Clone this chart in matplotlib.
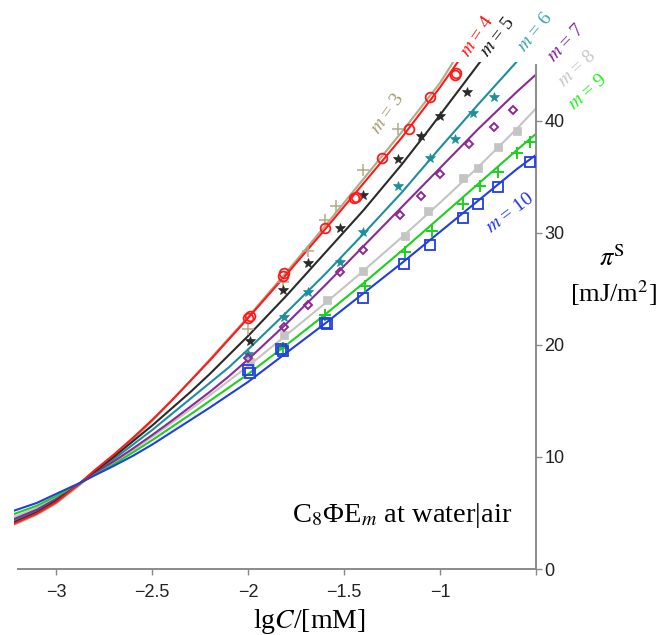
import numpy as np
import matplotlib
matplotlib.use('Agg')
import matplotlib.pyplot as plt

plt.rcParams['mathtext.fontset'] = 'stix'

# ---------------------------------------------------------------
# data: surface pressure vs lg C
# ---------------------------------------------------------------
M_VALUES = [3, 4, 5, 6, 7, 8, 9, 10]

# fitted curves
line_x = {
    3: [-3.22, -3.1, -3.0, -2.88, -2.8, -2.7, -2.6, -2.5, -2.4, -2.3, -2.2, -2.1, -2.0, -1.8, -1.6, -1.4, -1.2, -1.0, -0.93],
    4: [-3.22, -3.1, -3.0, -2.88, -2.8, -2.7, -2.6, -2.5, -2.4, -2.3, -2.2, -2.1, -2.0, -1.8, -1.6, -1.4, -1.2, -1.0, -0.906],
    5: [-3.22, -3.1, -3.0, -2.88, -2.8, -2.7, -2.6, -2.5, -2.4, -2.3, -2.2, -2.1, -2.0, -1.8, -1.6, -1.4, -1.2, -1.05, -0.9, -0.79],
    6: [-3.22, -3.1, -3.0, -2.88, -2.8, -2.7, -2.6, -2.5, -2.4, -2.3, -2.2, -2.1, -2.0, -1.8, -1.6, -1.4, -1.2, -1.0, -0.8, -0.6],
    7: [-3.22, -3.1, -3.0, -2.88, -2.8, -2.7, -2.6, -2.5, -2.4, -2.3, -2.2, -2.1, -2.0, -1.8, -1.6, -1.4, -1.2, -1.0, -0.8, -0.6, -0.49],
    8: [-3.22, -3.1, -3.0, -2.88, -2.8, -2.7, -2.6, -2.5, -2.4, -2.3, -2.2, -2.1, -2.0, -1.8, -1.6, -1.4, -1.2, -1.0, -0.8, -0.6, -0.49],
    9: [-3.22, -3.1, -3.0, -2.88, -2.8, -2.7, -2.6, -2.5, -2.4, -2.3, -2.2, -2.1, -2.0, -1.8, -1.6, -1.4, -1.2, -1.0, -0.8, -0.6, -0.49],
    10: [-3.22, -3.1, -3.0, -2.88, -2.8, -2.7, -2.6, -2.5, -2.4, -2.3, -2.2, -2.1, -2.0, -1.8, -1.6, -1.4, -1.2, -1.0, -0.8, -0.6, -0.49],
}
line_y = {
    3: [3.95, 4.85, 5.85, 7.45, 8.6, 10.0, 11.55, 13.2, 15.0, 16.8, 18.7, 20.6, 22.5, 26.5, 30.6, 34.8, 39.0, 43.4, 45.3],
    4: [4.05, 4.95, 5.95, 7.6, 8.8, 10.2, 11.7, 13.3, 15.0, 16.8, 18.6, 20.5, 22.4, 26.3, 30.3, 34.4, 38.5, 43.0, 45.3],
    5: [4.15, 5.05, 6.05, 7.6, 8.7, 10.0, 11.4, 12.8, 14.3, 15.8, 17.4, 19.1, 20.8, 24.4, 28.2, 32.0, 36.1, 39.4, 42.8, 45.3],
    6: [4.3, 5.2, 6.15, 7.6, 8.6, 9.8, 11.1, 12.4, 13.8, 15.2, 16.6, 18.0, 19.6, 22.9, 26.3, 29.9, 33.6, 37.6, 41.5, 45.3],
    7: [4.45, 5.3, 6.25, 7.6, 8.55, 9.6, 10.75, 11.95, 13.2, 14.5, 15.8, 17.2, 18.7, 21.9, 25.3, 28.8, 32.3, 35.8, 39.3, 42.6, 44.3],
    8: [4.65, 5.45, 6.35, 7.6, 8.5, 9.5, 10.6, 11.8, 13.0, 14.25, 15.5, 16.8, 18.1, 20.9, 23.7, 26.6, 29.6, 32.7, 35.9, 39.3, 41.3],
    9: [4.9, 5.65, 6.5, 7.6, 8.4, 9.35, 10.4, 11.5, 12.65, 13.8, 15.0, 16.2, 17.4, 20.0, 22.7, 25.5, 28.4, 31.4, 34.4, 37.4, 39.0],
    10: [5.2, 5.9, 6.7, 7.65, 8.35, 9.2, 10.1, 11.1, 12.2, 13.3, 14.4, 15.55, 16.7, 19.3, 21.9, 24.6, 27.3, 30.1, 32.9, 35.7, 37.1],
}

# measured points
pt_x = {
    3: [-2.0, -1.82, -1.69, -1.60, -1.54, -1.40, -1.22],
    4: [-2.0, -1.99, -1.82, -1.81, -1.60, -1.45, -1.44, -1.30, -1.16, -1.05, -0.92, -0.915],
    5: [-1.99, -1.82, -1.69, -1.52, -1.40, -1.22, -1.10, -1.0, -0.86],
    6: [-2.0, -1.81, -1.69, -1.52, -1.40, -1.22, -1.05, -0.92, -0.83, -0.72],
    7: [-2.0, -1.81, -1.69, -1.52, -1.40, -1.21, -1.10, -1.0, -0.85, -0.72, -0.62],
    8: [-1.99, -1.81, -1.59, -1.40, -1.18, -1.06, -0.88, -0.80, -0.70, -0.60],
    9: [-1.82, -1.60, -1.39, -1.18, -1.04, -0.88, -0.79, -0.70, -0.60, -0.53],
    10: [-2.0, -1.99, -1.83, -1.82, -1.60, -1.59, -1.40, -1.19, -1.05, -0.88, -0.80, -0.70, -0.53],
}
pt_y = {
    3: [21.4, 25.6, 28.4, 31.2, 32.4, 35.6, 39.3],
    4: [22.4, 22.6, 26.2, 26.4, 30.4, 33.1, 33.2, 36.7, 39.3, 42.1, 44.1, 44.3],
    5: [20.4, 24.9, 27.3, 30.4, 33.4, 36.6, 38.7, 40.4, 42.6],
    6: [19.2, 22.5, 24.7, 27.4, 30.1, 34.2, 36.7, 38.4, 40.7, 42.1],
    7: [18.8, 21.6, 23.6, 26.5, 28.5, 31.6, 33.3, 35.3, 37.9, 39.5, 41.0],
    8: [18.5, 20.9, 24.0, 26.6, 29.7, 32.0, 34.9, 35.8, 37.7, 39.1],
    9: [19.7, 22.7, 25.3, 28.3, 30.2, 32.6, 34.2, 35.4, 37.1, 38.1],
    10: [17.8, 17.5, 19.6, 19.5, 22.0, 21.9, 24.2, 27.2, 28.9, 31.3, 32.6, 34.1, 36.3],
}

x_ticks = [-3, -2.5, -2, -1.5, -1, -0.5]
x_tick_labels = ['\u22123', '\u22122.5', '\u22122', '\u22121.5', '\u22121', '']
y_ticks = [0, 10, 20, 30, 40]

# label positions for "m = ..." (data coords) and angle
label_pos = {3: (-1.27, 40.7, 55), 4: (-0.805, 47.6, 56), 5: (-0.698, 47.5, 52),
             6: (-0.505, 47.9, 51), 7: (-0.344, 47.0, 46), 8: (-0.286, 44.7, 43),
             9: (-0.229, 42.6, 41), 10: (-0.635, 31.8, 37)}

# ---------------------------------------------------------------
# styles
# ---------------------------------------------------------------
line_col = {3: '#b2aa88', 4: '#ff1a1a', 5: '#2a2a2a', 6: '#1f8e9c',
            7: '#8a2a92', 8: '#c4c4c4', 9: '#1ecf1e', 10: '#1f3fe0'}
label_col = {3: '#a39d72', 4: '#ff1010', 5: '#111111', 6: '#3aa3ad',
             7: '#7d1f8c', 8: '#c8c8c8', 9: '#22ee22', 10: '#2233e6'}
mk_style = {
    3: dict(marker='+', ms=8, mew=1.1, mfc='none'),
    4: dict(marker='o', ms=7, mew=1.3, mfc='none'),
    5: dict(marker='*', ms=7, mew=0.5),
    6: dict(marker='*', ms=7, mew=0.5),
    7: dict(marker='D', ms=4.5, mew=1.4, mfc='none'),
    8: dict(marker='s', ms=6, mew=0.5),
    9: dict(marker='+', ms=8, mew=1.4, mfc='none'),
    10: dict(marker='s', ms=6.5, mew=1.3, mfc='none'),
}

W, H = 661, 635
fig = plt.figure(figsize=(W / 100, H / 100), dpi=100, facecolor='white')
ax = fig.add_axes([13.8 / W, 1 - 569 / H, (536 - 13.8) / W, (569 - 61.6) / H])

for m in [8, 3, 6, 7, 9, 5, 4, 10]:
    c = line_col[m]
    ax.plot(line_x[m], line_y[m], color=c, lw=1.5, solid_capstyle='round', zorder=2)
    ax.plot(pt_x[m], pt_y[m], ls='none', color=c, mec=c, zorder=3, **mk_style[m])

for m in M_VALUES:
    lx, ly, ang = label_pos[m]
    ax.text(lx, ly, r'$m$ = %d' % m, color=label_col[m], fontsize=14,
            family='Liberation Serif', rotation=ang, rotation_mode='anchor',
            ha='center', va='center', clip_on=False)

ax.text(-1.198, 4.8, r'C$_8$ΦE$_m$ at water|air', fontsize=20.5,
        family='Liberation Serif', ha='center', va='center')

# axes: x axis on y=0, y axis on the right at lgC = -0.5
ax.set_xlim(-3.22, -0.5)
ax.set_ylim(0, 45.3)
for s in ['left', 'top']:
    ax.spines[s].set_visible(False)
for s in ['bottom', 'right']:
    ax.spines[s].set_color('#8a8a8a')
    ax.spines[s].set_linewidth(1.4)
ax.spines['bottom'].set_bounds(-3.2, -0.5)
ax.spines['right'].set_bounds(0, 45.0)
ax.yaxis.tick_right()
ax.set_xticks(x_ticks)
ax.set_xticklabels(x_tick_labels)
ax.set_yticks(y_ticks)
ax.tick_params(axis='both', colors='#8a8a8a', labelcolor='#222222', length=4,
               width=1.0, direction='out', labelsize=13)
ax.tick_params(axis='x', pad=7)
ax.tick_params(axis='y', pad=2)
for lab in ax.get_xticklabels() + ax.get_yticklabels():
    lab.set_family('Liberation Sans')

# axis titles
fig.text(309 / W, 1 - 621 / H, r'lg$C$/[mM]', fontsize=20,
         family='Liberation Serif', ha='center', va='center')
fig.text(612 / W, 1 - 258 / H, r'$\pi^{\mathrm{S}}$', fontsize=19,
         family='Liberation Serif', ha='center', va='center')
fig.text(614 / W, 1 - 293 / H, r'[mJ/m$^2$]', fontsize=19,
         family='Liberation Serif', ha='center', va='center')

plt.savefig('out.png', dpi=100, facecolor='white')
plt.close()
